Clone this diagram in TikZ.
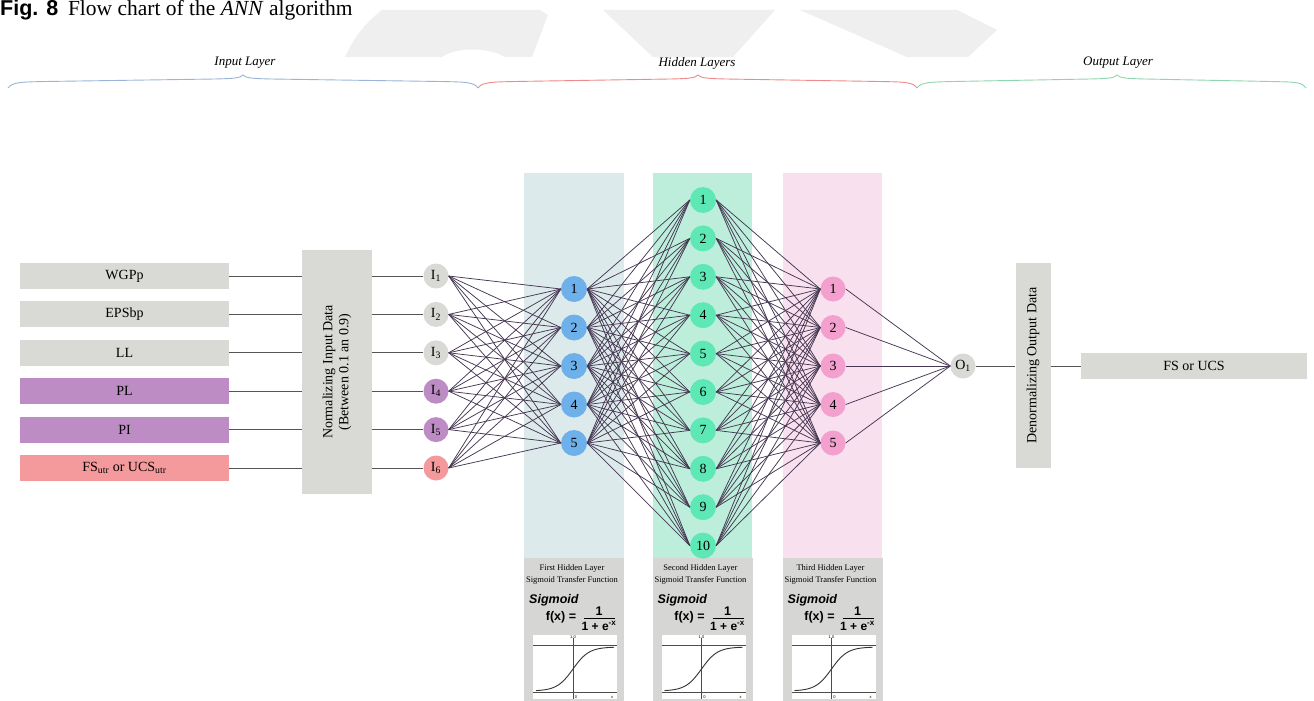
\documentclass[tikz,border=0pt]{standalone}
\usepackage{fontspec}
\setmainfont{Liberation Serif}
\newfontfamily\sansf{Liberation Sans}
\definecolor{boxgray}{HTML}{D9D9D6}
\definecolor{purp}{HTML}{BD8CC4}
\definecolor{pinkin}{HTML}{F4999C}
\definecolor{bluen}{HTML}{6DB0EA}
\definecolor{greenn}{HTML}{5EE8B5}
\definecolor{pinkn}{HTML}{F3A0CF}
\definecolor{panelA}{HTML}{DCEAEC}
\definecolor{panelB}{HTML}{BDEEDB}
\definecolor{panelC}{HTML}{F8E0EF}
\definecolor{botgray}{HTML}{D6D6D4}
\definecolor{wmark}{HTML}{EFEFEF}
\definecolor{edgec}{HTML}{463852}
\definecolor{wirec}{HTML}{555555}
\definecolor{braceblue}{HTML}{9AB3D9}
\definecolor{bracered}{HTML}{EE8A8A}
\definecolor{bracegreen}{HTML}{8FD6B0}
\begin{document}
\begin{tikzpicture}[x=1pt,y=-1pt,
  inbox/.style={rectangle, minimum width=209pt, minimum height=26pt, inner sep=0pt, font=\fontsize{14}{15}\selectfont},
  neuron/.style={circle, minimum size=26pt, inner sep=0pt, font=\fontsize{14}{15}\selectfont},
  conn/.style={draw=edgec, line width=0.75pt},
  wire/.style={draw=wirec, line width=0.9pt},
  layerlabel/.style={font=\fontsize{13}{14}\selectfont\itshape, inner sep=0pt},
  bracepath/.style={line width=0.9pt},
  formula/.style={font=\fontsize{12.5}{13}\sansf\bfseries, inner sep=0pt},
  pics/sigpanel/.style={code={
    \fill[botgray] (-50,0) rectangle (50,143);
    \node[font=\fontsize{8.5}{9}\selectfont, inner sep=0pt] at (-2,10) {#1 Hidden Layer};
    \node[font=\fontsize{8.5}{9}\selectfont, inner sep=0pt] at (-2,22) {Sigmoid Transfer Function};
    \node[anchor=west, font=\fontsize{12.5}{13}\sansf\bfseries\itshape, inner sep=0pt] at (-45,42) {Sigmoid};
    \node[formula] at (-13,59) {f(x) =};
    \node[formula] at (25,53) {1};
    \draw[line width=0.9pt] (10,60) -- (41,60);
    \node[formula, font=\fontsize{12}{13}\sansf\bfseries] at (25,68) {1 + e\textsuperscript{-x}};
    \fill[white] (-41,77) rectangle (43,141);
    \draw[line width=0.6pt, black!70] (-41,87) -- (43,87);
    \draw[line width=0.6pt, black!70] (-41,134) -- (43,134);
    \draw[line width=0.6pt, black!70] (-1,80) -- (-1,141);
    \draw[line width=0.9pt, black!80, domain=-38:40, samples=60, smooth] plot (\x, {133-44/(1+exp(-(\x+1)/8))});
    \node[font=\fontsize{4}{4}\sansf, inner sep=0pt] at (-1,79) {1.0};
    \node[font=\fontsize{4}{4}\sansf, inner sep=0pt] at (2,139) {0};
    \node[font=\fontsize{4}{4}\sansf, inner sep=0pt] at (38,139) {x};
  }}
]
\useasboundingbox (0,0) rectangle (1314,701);
\fill[white] (0,0) rectangle (1314,701);

% watermark shapes
\fill[wmark] (382,10) -- (540,10) -- (548,15) -- (532,57) -- (505,57)
  .. controls (490,48) and (458,46) .. (442,57) -- (345,57)
  .. controls (355,35) and (367,22) .. (382,10) -- cycle;
\fill[wmark] (603,10) -- (775,10) -- (733,57) -- (653,57) -- cycle;
\fill[wmark] (800,10) -- (957,10) -- (997,30) -- (968,57) -- (907,57) -- cycle;

% title
\node[anchor=base west, inner sep=0pt, font=\fontsize{21.5}{23}\selectfont] (title) at (0,16)
  {{\sansf\bfseries Fig. 8}\hspace{0.45em}Flow chart of the \textit{ANN} algorithm};

% braces
\draw[bracepath, braceblue] (8,88) .. controls (12,82) and (22,82) .. (45,81.5) -- (215,79)
  .. controls (235,78.5) and (240,78) .. (243,75) .. controls (246,78) and (251,78.5) .. (271,79)
  -- (440,81.5) .. controls (466,82) and (474,82) .. (478,88);
\draw[bracepath, bracered] (478,88) .. controls (482,82) and (492,82) .. (515,81.5) -- (670,79)
  .. controls (690,78.5) and (695,78) .. (698,75) .. controls (701,78) and (706,78.5) .. (726,79)
  -- (880,81.5) .. controls (905,82) and (913,82) .. (917,88);
\draw[bracepath, bracegreen] (917,88) .. controls (921,82) and (931,82) .. (954,81.5) -- (1090,79)
  .. controls (1110,78.5) and (1114,78) .. (1117,75) .. controls (1120,78) and (1125,78.5) .. (1145,79)
  -- (1270,81.5) .. controls (1296,82) and (1302,82) .. (1306,88);
\node[layerlabel] (lin) at (245,63) {Input Layer};
\node[layerlabel] (lhid) at (697,63) {Hidden Layers};
\node[layerlabel] (lout) at (1118,63) {Output Layer};

% hidden panels
\fill[panelA] (524,173) rectangle (624,558);
\fill[panelB] (653,173) rectangle (752,558);
\fill[panelC] (783,173) rectangle (882,558);
\pic at (574,558) {sigpanel=First};
\pic at (702.5,558) {sigpanel=Second};
\pic at (832.5,558) {sigpanel=Third};

% input boxes
\node[inbox, fill=boxgray] (x1) at (124.5,276) {WGPp};
\node[inbox, fill=boxgray] (x2) at (124.5,314.4) {EPSbp};
\node[inbox, fill=boxgray] (x3) at (124.5,352.8) {LL};
\node[inbox, fill=purp] (x4) at (124.5,391.2) {PL};
\node[inbox, fill=purp] (x5) at (124.5,429.6) {PI};
\node[inbox, fill=pinkin] (x6) at (124.5,468) {FS\textsubscript{utr} or UCS\textsubscript{utr}};

% normalizing box
\node[fill=boxgray, minimum width=70pt, minimum height=244pt, inner sep=0pt] (norm) at (337,372) {};
\node[rotate=90, align=center, font=\fontsize{14}{16}\selectfont] (normtxt) at (norm.center)
  {Normalizing Input Data\\(Between 0.1 an 0.9)};

% input neurons
\node[neuron, minimum size=25pt, fill=boxgray] (i1) at (436,276) {I\textsubscript{1}};
\node[neuron, minimum size=25pt, fill=boxgray] (i2) at (436,314.4) {I\textsubscript{2}};
\node[neuron, minimum size=25pt, fill=boxgray] (i3) at (436,352.8) {I\textsubscript{3}};
\node[neuron, minimum size=25pt, fill=purp] (i4) at (436,391.2) {I\textsubscript{4}};
\node[neuron, minimum size=25pt, fill=purp] (i5) at (436,429.6) {I\textsubscript{5}};
\node[neuron, minimum size=25pt, fill=pinkin] (i6) at (436,468) {I\textsubscript{6}};

\foreach \k in {1,...,6} {
  \draw[wire] (x\k.east) -- (x\k.east -| norm.west);
  \draw[wire] (norm.east |- i\k) -- (i\k.west);
}

% hidden layers
\foreach \k in {1,...,5}
  \node[neuron, fill=bluen] (a\k) at (574,{289+38.5*(\k-1)}) {\k};
\foreach \k in {1,...,10}
  \node[neuron, fill=greenn] (b\k) at (703,{200+38.4*(\k-1)}) {\k};
\foreach \k in {1,...,5}
  \node[neuron, minimum size=25pt, fill=pinkn] (c\k) at (833,{289+38.5*(\k-1)}) {\k};

% output
\node[neuron, minimum size=25pt, fill=boxgray] (o1) at (963,366) {O\textsubscript{1}};
\node[fill=boxgray, minimum width=35pt, minimum height=205pt, inner sep=0pt] (denorm) at (1033,365.5) {};
\node[rotate=90, font=\fontsize{14}{16}\selectfont] (denormtxt) at (denorm.center) {Denormalizing Output Data};
\node[inbox, minimum width=226pt, fill=boxgray] (y) at (1194,366) {FS or UCS};

% connections
\foreach \i in {1,...,6}
  \foreach \j in {1,...,5}
    \draw[conn] (i\i.east) -- (a\j.west);
\foreach \i in {1,...,5}
  \foreach \j in {1,...,10}
    \draw[conn] (a\i.east) -- (b\j.west);
\foreach \i in {1,...,10}
  \foreach \j in {1,...,5}
    \draw[conn] (b\i.east) -- (c\j.west);
\foreach \i in {1,...,5}
  \draw[conn] (c\i.east) -- (o1.west);
\draw[wire] (o1.east) -- (denorm.west |- o1);
\draw[wire] (denorm.east |- y) -- (y.west);
\end{tikzpicture}
\end{document}
